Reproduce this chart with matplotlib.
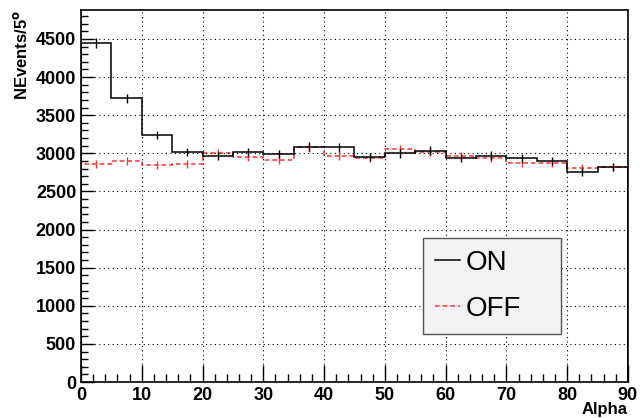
import numpy as np
import matplotlib.pyplot as plt
from matplotlib.ticker import MultipleLocator

# histogram bins in alpha (degrees)
edges = np.arange(0, 95, 5)
on_counts = [4443, 3722, 3240, 3021, 2965, 3021, 2987, 3087, 3079,
             2956, 3000, 3035, 2935, 2970, 2935, 2904, 2751, 2817]
off_counts = [2860, 2895, 2847, 2860, 3000, 2956, 2913, 3079, 2965,
              2935, 3053, 3022, 2965, 2935, 2877, 2877, 2804, 2817]

plt.rcParams['font.family'] = 'Liberation Sans'
plt.rcParams['font.weight'] = 'bold'

fig = plt.figure(figsize=(6.44, 4.18), dpi=100)
ax = fig.add_axes([0.1258, 0.0861, 0.975 - 0.1258, 0.976 - 0.0861])

centers = (edges[:-1] + edges[1:]) / 2
on = np.array(on_counts)
off = np.array(off_counts)

ax.stairs(off, edges, color="#ff3030", linestyle=(0, (3, 2)), linewidth=1.1, label="OFF")
ax.errorbar(centers, off, yerr=np.sqrt(off), fmt="none", ecolor="#ff3030", elinewidth=1.0)
ax.stairs(on, edges, color="black", linewidth=1.1, label="ON")
ax.errorbar(centers, on, yerr=np.sqrt(on), fmt="none", ecolor="black", elinewidth=1.0)

ax.set_xlim(0, 90)
ax.set_ylim(0, 4880)
ax.xaxis.set_major_locator(MultipleLocator(10))
ax.xaxis.set_minor_locator(MultipleLocator(2))
ax.yaxis.set_major_locator(MultipleLocator(500))
ax.yaxis.set_minor_locator(MultipleLocator(100))
ax.tick_params(axis="both", which="both", direction="in", labelsize=13)
ax.tick_params(axis="x", which="major", length=12, width=1)
ax.tick_params(axis="x", which="minor", length=6, width=1)
ax.tick_params(axis="y", which="major", length=9, width=1)
ax.tick_params(axis="y", which="minor", length=5, width=1)
ax.grid(True, which="major", color="black", linestyle=(0, (1, 3)), linewidth=0.8)
for lab in ax.get_xticklabels() + ax.get_yticklabels():
    lab.set_fontweight("bold")
for sp in ax.spines.values():
    sp.set_linewidth(1.2)

fig.text(0.975, 0.003, "Alpha", ha="right", va="bottom", fontsize=12, fontweight="bold")
ax.set_ylabel("NEvents/5$^{\\mathbf{o}}$", fontsize=12, fontweight="bold", loc="top")

h, l = ax.get_legend_handles_labels()
leg = ax.legend(h[::-1], l[::-1], loc="lower left", bbox_to_anchor=(0.625, 0.129, 0.2525, 0.25),
                mode="expand", fontsize=20, frameon=True, fancybox=False,
                facecolor="#f2f2f2", edgecolor="#555555", framealpha=1,
                handlelength=0.9, handletextpad=0.2, labelspacing=0.7,
                borderpad=0.45, borderaxespad=0)
for t in leg.get_texts():
    t.set_fontweight("normal")

fig.savefig("out.png", dpi=100)
